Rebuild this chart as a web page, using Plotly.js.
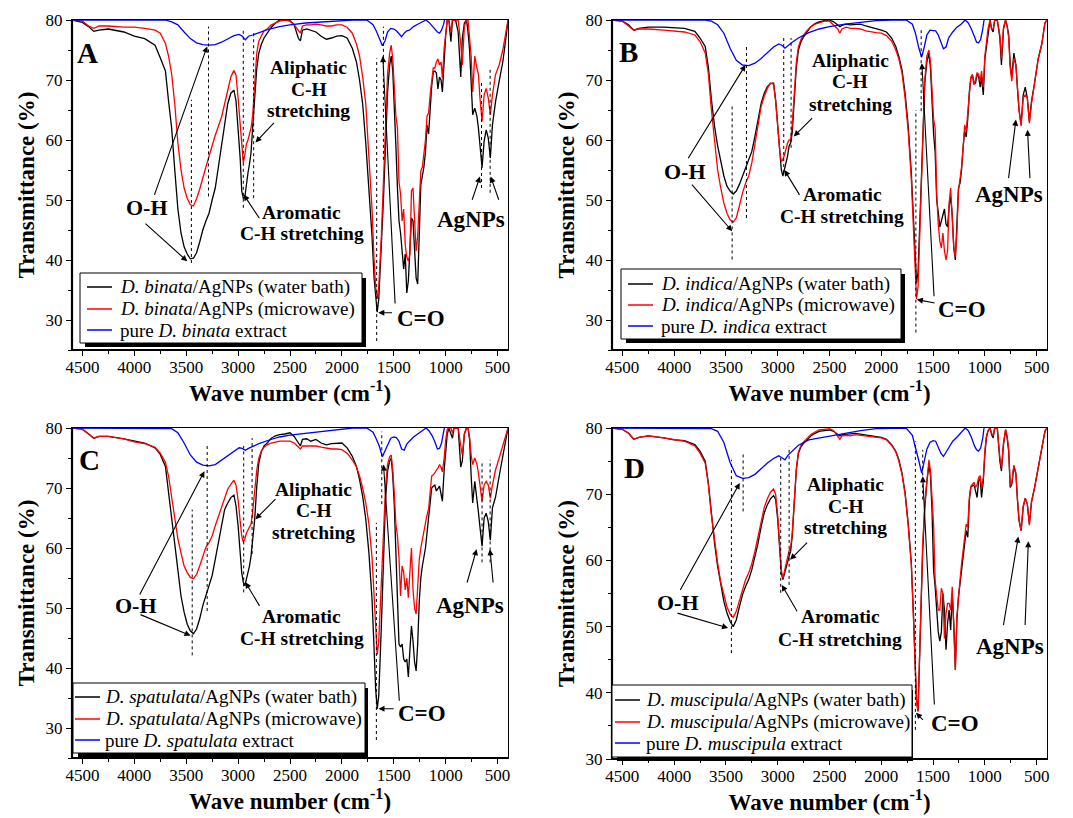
<!DOCTYPE html>
<html><head><meta charset="utf-8">
<script src="https://cdn.plot.ly/plotly-3.0.1.min.js"></script>
<style>html,body{margin:0;padding:0;background:#fff}#chart{width:1073px;height:818px}</style>
</head><body><div id="chart"></div>
<script>
// ---------- DATA ----------
const WN = [4600,4500,4440,4390,4340,4250,4100,4000,3900,3800,
3750,3700,3670,3640,3610,3580,3550,3520,3490,3460,
3430,3400,3370,3340,3310,3280,3250,3220,3190,3160,
3130,3100,3070,3040,3020,3000,2980,2965,2950,2935,
2920,2905,2890,2875,2860,2840,2820,2800,2775,2750,
2720,2680,2640,2600,2550,2500,2460,2420,2400,2380,
2340,2300,2250,2200,2150,2100,2050,2000,1950,1900,
1860,1830,1800,1770,1740,1710,1690,1675,1660,1645,
1620,1600,1580,1560,1540,1525,1510,1495,1480,1465,
1450,1435,1420,1405,1390,1375,1360,1345,1330,1315,
1300,1285,1270,1255,1240,1225,1210,1195,1180,1165,
1150,1135,1120,1105,1090,1075,1060,1045,1032,1015,
1000,985,970,950,935,920,905,880,855,840,
820,800,785,770,755,740,720,700,685,670,
650,630,610,590,570,550,520,485,450,420,
400];

const BWN = [4600,3700,3640,3580,3520,3460,3400,3340,3280,3220,
3160,3100,3040,2990,2960,2930,2900,2860,2800,2700,
2600,2500,2350,2200,2050,1900,1760,1700,1670,1640,
1610,1585,1560,1530,1500,1475,1450,1425,1400,1375,
1350,1310,1270,1230,1190,1160,1130,1100,1080,1060,
1040,1020,1000];

const binataWater = [80,79.6,78.9,78.1,78.3,78.5,78.0,77.3,76.9,75.8,
73.7,71.5,66.5,62,55,48.5,44.5,42.2,41,40.2,
40.3,41.2,43,45,46.5,47.8,50,52,55.5,59,
62.5,66,67.8,68.3,66.5,62,57,51.5,50.3,50.5,
53,54.5,56,58,62,67.5,72,74.5,76,77,
77.8,78.8,79.5,80,80,79.9,79.2,77,76.5,78.3,
78.5,78.3,78,77.3,76.8,77,77.3,77.4,77,75.3,
73,70,66,59.5,52,44,37,33.5,31.3,33.5,
42,50,59,68,72.5,74,71.5,66,59,52,
46.5,44.5,42,38.5,41,34.5,36.5,41,47,46.5,
42,37,36,44.5,52.5,54,55.5,58,62.5,61,
66,69,71.4,71.5,71.2,68.5,70.5,70,68,74,
77.5,80,80,76.4,80,80,80,78,70.5,77,
79.5,80,78,75,69,64.2,65.3,64,62,58.7,
55.4,59.8,61.7,60.3,57,62.5,66.4,69.8,73,77,
80];
const binataMicrowave = [80,79.8,79.0,78.6,79.0,79.0,78.8,78.8,78.6,78.3,
77.8,76.1,74,71,66,59.5,55,52,50.3,49.2,
49.0,50.2,51.8,53.8,55.5,57.3,59.2,60.8,62.3,63.8,
66,68.5,70.5,71.6,70.8,67,62,58.5,56.2,57.5,
59.3,60,61,62,64,70,74.5,76.5,77.5,78.2,
78.5,79.2,79.5,79.8,80,79.8,79.2,78.2,77.8,79,
79.2,79.2,79.3,79.2,79,79,79.2,79.2,78.8,77.8,
76,74,70.5,66,58,48.5,40,35.5,33.5,35.5,
44,53,62,71,74.5,75.8,73.5,69,64,62,
53,51,46.5,48.5,42.5,40.5,39.8,41,51.5,52,
47.5,41.5,44,49,54.8,55.5,58,60,64,64.5,
67.5,70,72,72,73,73.5,72.5,73,70.3,75.3,
78,80,80,78,80,80,80,80,76,72.5,
79,80,80,77,74,68,74,72,71,67,
63.1,67.5,68.6,67,64.2,67.5,70.9,72.5,75,78,
80];
const binataExtract = [80,80,79.7,79.2,78,76.9,76.2,75.9,75.8,75.9,
76.3,76.9,77.4,77.6,77.3,76.7,77.3,77.5,77.9,78.5,
78.9,79.2,79.5,79.7,79.9,80,80,79.2,78.2,77,
75.7,76.5,78,78.6,78.5,78.2,77.6,77.2,77.8,78.2,
78.3,78.9,79.3,79.6,80,79.6,79,78.3,78,77.8,
78.3,79.3,81];

const indicaWater = [80,79.8,79.2,78.3,78.6,78.8,78.8,78.7,78.6,78.1,
77,75.6,72.2,66.7,62.3,59,56.2,54,52.3,51.5,
51,51.5,52.6,54,55.6,56.7,58.1,60.6,63.4,66.1,
67.8,68.9,69.4,69.5,66.7,62.3,57.8,55,54,55,
56.2,57.3,59,59.5,61.2,66.7,72.2,75,76.4,77.2,
78,78.9,79.4,79.7,79.9,80,79.7,79.2,78.9,79.1,
79.3,79.2,79.2,79.3,79,78.8,78.6,78.3,78,77,
75.6,73.9,71.7,67.8,62.3,54.5,47.3,41,36.2,38,
50,62,69.5,73,74.5,72,66,61,58,50,
48,45.5,46.5,47.5,48.5,46,45.5,49,50.5,47.5,
42,40,45.5,52,52.8,55,58.7,61.5,60.5,63.5,
68,70.3,70.9,69.5,69.5,71,70.5,68.8,70.5,67.5,
73.5,75.5,77.3,80,78.5,78,80,80,77,72.5,
78.5,80,79,77.5,72.5,70.5,74.5,72.5,68.5,65,
62.6,67.5,68.8,67,63.1,66.4,69.5,73.5,76,79.5,
80];
const indicaMicrowave = [80,79.8,79,78.3,78.5,78.5,78.3,78.2,78,77.5,
76.4,74.5,71.1,65,59.5,55,52,49.5,47.8,46.7,
46.3,47,49,51.2,52.8,54,56.2,59.5,62.8,65.6,
67.3,68.6,69.5,69.3,66.5,62,58,56.5,56.7,57.5,
58.5,59.5,60,60,62.5,68,73,75.5,76.8,77.5,
78.2,78.9,79.3,79.5,79.8,79.8,79.2,78.5,77.8,78.5,
78.8,78.6,78.6,78.5,78.2,78,77.9,77.8,77.4,76.5,
75,73.5,71.2,67,61.5,53.5,46,38.5,33.5,35.5,
48,61,70,74,75,73,67,63.5,62,51,
46,43.2,42,44.5,41.5,40,41.5,49.5,52,47.5,
42,40.5,44.5,51.5,53.5,55.5,58.7,62.5,61.5,64.5,
68.5,70.5,70.8,69.2,70,71.2,71,69.8,71.5,68.8,
74,76.5,78.5,80,78.5,78.5,80,80,77.5,73.6,
78.8,80,79,77,72,69.8,73.6,72.5,68.5,65,
62.3,67,67.5,67,62.8,66,69.5,73.5,76,79.5,
80];
const indicaExtract = [80,80,79.8,79.2,77.8,75.3,73.3,72.5,72.4,72.8,
73.6,74.5,75.5,76,75.8,75.3,75.8,76.3,77,77.9,
78.5,78.9,79.3,79.6,79.9,80,80,79.3,77.8,75.5,
73.8,75.5,77.5,78.3,78.3,78.2,77.5,76.2,75.2,75.5,
77,78,78.8,79.3,80,79.5,78.5,77.2,76.3,76.2,
76.8,78.5,81];

const spatulataWater = [80,79.8,79,78.3,78.6,78.6,78.2,77.8,77.5,76.7,
75.6,73.6,69.2,64.8,59.8,55.4,52,49.3,47.3,46.2,
45.7,46.5,48.2,50.4,52,53.4,55.4,58.1,60.9,64.2,
66.4,67.5,68.4,68.8,67,63.7,59.2,55.9,54.3,53.7,
54.8,55.9,57,58.7,60.9,64.8,70.3,74.2,76.1,77,
77.5,78.3,78.7,78.9,79,79.2,78.6,77.5,77,78.1,
78.2,77.8,78.1,77.5,77.2,77.4,77.5,77.5,76.7,75.3,
73.6,71.4,68.6,64.8,59.2,51.5,43.2,36.5,33.2,35.4,
47,58,68,72.8,74.5,75,72,67,58,50,
44,43.5,44,41.5,41,41.5,38.5,43,47,44.5,
41,39.5,44,51,55,57,58.5,60,62.5,65,
68,70,70.3,70.5,69.5,70,70.3,69,67.8,73,
76.5,79,80,79,78.3,80,80,80,73.5,74.5,
79,80,80,78,72,67.5,71.1,68.5,66,63.5,
60.3,65,65.8,64.4,61.3,66.7,68.5,72,75.5,78.5,
80];
const spatulataMicrowave = [80,79.8,79,78.3,78.6,78.6,78.2,77.7,77.4,76.8,
75.8,74.3,72,68.6,64.8,61.5,59.2,57,55.9,55.1,
54.9,55.6,57,58.7,60.1,60.9,62,63.7,65.3,67,
68.6,69.8,70.6,71.3,70.5,68,64.5,62,61,61.5,
62.5,63,63.5,64,66,69.5,73,75,76.2,76.8,
77.2,77.5,77.7,77.8,77.8,77.8,77.5,76.8,76.5,77,
77,77,77,76.8,76.6,76.5,76.5,76.4,75.8,74.7,
73.5,72,70,67.5,64,58.5,52,46,42.2,44.5,
55,63,70,74,75.2,75.5,73,69,64,62,
58.3,52,57,56,53,55,51.7,56,60,53,
50,49,54,58,60,61.5,62.5,64,65.5,66.5,
69,72,72.2,72.5,73,73.3,73.9,73.5,72.7,75,
78,79.8,80,80,79.2,80,80,80,77,75.5,
79,80,80,78.5,75.5,73.9,75,74,72.5,70,
67.8,70.5,71.1,70.5,68.3,70.5,73,75,77,79,
80];
const spatulataExtract = [80,80,79.9,79.2,77.5,75.5,74.3,73.8,73.7,73.9,
74.6,75.4,76.1,76.7,76.6,76.3,76.6,76.9,77.4,78,
78.5,78.8,79.1,79.4,79.8,80,80,79.3,78.2,77,
75.2,76.2,77.3,78.3,78.5,78.4,77.8,76.5,76.3,77.3,
77.8,78.5,79,79.5,80,79.5,78.7,77.5,76.5,76.6,
77.5,79.4,81];

const muscipulaWater = [80,79.8,79.2,78.3,78.6,78.8,78.5,78.2,78.1,77.5,
76.5,75,71.7,66.7,62.6,59.1,56.1,53.8,52.1,50.8,
50,51,53,54.8,56.1,57.1,58.6,60.6,62.6,65.1,
67.2,68.4,69.3,69.8,69.2,66.2,61.6,58.1,57.1,58.1,
59.1,59.6,60.6,61.4,63.6,68.7,73.7,76.2,77.2,77.7,
78.2,78.8,79.2,79.5,79.6,79.7,79.5,79.1,78.8,79,
79.1,79.1,79.2,79.1,79,78.8,78.7,78.6,78.3,77.5,
76.5,75.2,73.2,70.2,65.6,59.6,52,45,39,37.2,
52.8,61.5,67.9,71.9,74.4,72.8,67.5,58.5,56,52.3,
49.2,47.8,49.2,55,52.5,46.5,50.5,52.5,49.5,55,
50.5,43.5,51,54.5,56.5,59,61,62.8,64.5,63.5,
69,71.1,71.3,71.4,70.5,69.5,72,72.4,69.5,72,
76,78.5,79.5,80,79,78.5,80,80,75,73.5,
77.5,79.7,78.5,76.5,71,71.5,74.2,73,69,66,
64.5,68,69.4,68.5,65.5,68.8,71,74,77,79.5,
80];
const muscipulaMicrowave = [80,79.8,79.2,78.3,78.6,78.8,78.5,78.2,78,77.3,
76.2,74.7,71.5,66.8,63,59.6,56.7,54.6,53,51.9,
51.4,52.3,54,55.8,57.1,58.1,59.5,61.4,63.5,65.9,
68,69.3,70.3,70.8,70,66.8,62,58.5,57.3,58.5,
59.5,60.3,61.5,62,64,69,73.9,76.4,77.4,77.9,
78.4,79,79.4,79.7,79.8,79.9,79.6,78.8,78.3,78.8,
78.9,78.8,79,78.9,78.8,78.6,78.6,78.5,78.2,77.4,
76.4,75,73,70,65.3,59.3,51.7,44.5,38.5,37.2,
53.5,62.5,68.5,72.5,75.2,73.5,69,65.3,57,54.3,
52.5,52.5,55.8,55,48.2,52,53.5,53.5,52.5,56,
50.5,43.5,51.5,55,57,59.5,61.5,64,65.5,65,
69.5,71.2,71.5,71.8,71,71.5,72.5,72.8,70.9,72.5,
76.5,78.8,79.6,80,79.2,78.8,80,80,75.5,74,
77.8,79.8,78.8,76.8,71.2,71.7,74.4,73.2,69.3,66.2,
64.5,68.2,69.4,68.5,65.3,68.8,71,74,77,79.5,
80];
const muscipulaExtract = [80,80,79.9,79.5,77.8,74.8,72.8,72.4,72.5,73,
73.9,74.7,75.4,75.8,75.5,75.2,75.9,76.5,77.4,78.2,
78.5,78.7,79.2,79.6,79.9,80,80,78.9,77.2,75.2,
73.2,75.2,76.8,77.8,78.1,78,77.2,76.2,75.7,76.3,
77.1,78,78.6,79.3,80,79.6,78.6,77.3,76.7,76.5,
77,78.5,81];

const X_TICKS = [4500,4000,3500,3000,2500,2000,1500,1000,500];
const X_MINOR = [4250,3750,3250,2750,2250,1750,1250,750];
const Y_TICKS = [30,40,50,60,70,80];
const Y_MINOR = [25,35,45,55,65,75];

// ---------- LAYOUT HELPERS ----------
const W = 1073, H = 818;
const FONT = 'Liberation Serif, Times New Roman, serif';
const px = v => v / W, py = v => 1 - v / H;
const SERIES_COLORS = ['#000000', '#ff0000', '#0000ff'];

const PANELS = [
  {id:'A', sp:'binata', water:binataWater, micro:binataMicrowave, pure:binataExtract, yr:[25,80],
   dom:{x:[72,508], y:[20,350]},
   leg:{box:[80,273,362,343], sh:[85,278,366,347], line:[87,112], tx:118, rows:[287,309,330]},
   letter:[4446,74.5], oh:[3881,48.7], ali:[2321,72.1,68.5,64.9], aro:[2385,48.0,44.4], co:[1240,30.3], ag:[760,46.7],
   arrows:[[3298,75.6,3811,50.6],[3490,39.8,3907,46.3],[2833,59.6,2641,63.1],[2946,50.9,2785,46.7],[1650,31.2,1503,31.2],[1606,74,1487,32.5],[670,53.9,750,49.8],[567,53.9,484,49.8]],
   dots:[[3450,39.5,66.7],[3285,50.6,78.9],[2950,48.7,78.6],[2850,50.3,78.3],[1665,26.5,73.6],[1600,56.7,78.9],[655,52,70],[572,51.2,71.7]]},
  {id:'B', sp:'indica', water:indicaWater, micro:indicaMicrowave, pure:indicaExtract, yr:[25,80],
   dom:{x:[612,1047], y:[20,350]},
   leg:{box:[621,269,901,339], sh:[626,274,905,343], line:[628,653], tx:659, rows:[284,305,326]},
   letter:[4445,74.6], oh:[3899,54.7], ali:[2299,73.2,69.7,66], aro:[2379,50.9,47.3], co:[1223,31.8], ag:[767,50.9],
   arrows:[[3311,72.5,3873,56.7],[3440,44.8,3841,52.8],[2845,60.6,2653,63.9],[2935,55,2781,50.6],[1657,33.4,1470,32.8],[1608,72.8,1490,33.7],[700,63.4,773,53.4],[588,61.7,564,53.4]],
   dots:[[3440,40.1,65.9],[3302,47,75.8],[2942,54.5,77.5],[2871,58.7,77],[1666,27.9,65],[1615,64.8,78.6]]},
  {id:'C', sp:'spatulata', water:spatulataWater, micro:spatulataMicrowave, pure:spatulataExtract, yr:[25,80],
   dom:{x:[72,508], y:[428,758]},
   leg:{box:[73,683,365,753], sh:[78,688,368,757], line:[75,100], tx:103, rows:[697,719,740]},
   letter:[4430,74.7], oh:[3987,50.4], ali:[2273,69.8,66.2,62.6], aro:[2385,48.6,45], co:[1231,32.4], ag:[766,50.4],
   arrows:[[3324,72.8,3955,52],[3458,45.4,3955,49],[2833,64.8,2625,68.4],[2930,54.3,2785,50.1],[1648,33.2,1487,33.2],[1599,73.9,1446,34.3],[702,59.8,798,54],[574,59.8,542,54]],
   dots:[[3442,42.1,66.4],[3298,49.5,77.5],[2946,52.6,77],[2865,59,78.3],[1668,28,64.2],[1616,67.3,79.4],[650,57.6,74.2],[572,57.6,74.7]]},
  {id:'D', sp:'muscipula', water:muscipulaWater, micro:muscipulaMicrowave, pure:muscipulaExtract, yr:[30,80],
   dom:{x:[612,1047], y:[428,759]},
   leg:{box:[612,685,912,757], sh:[617,690,913,761], line:[615,640], tx:644, rows:[700,722,743]},
   letter:[4380,74], oh:[3965,53.7], ali:[2345,71.4,68.2,64.9], aro:[2394,51.6,48.1], co:[1292,35.4], ag:[758,47],
   arrows:[[3366,71.7,3949,55.3],[3479,49.8,3982,52.1],[2880,60.1,2702,62.9],[2961,56.3,2805,52.1],[1665,37,1584,35.7],[1600,72.7,1487,38],[677,63.6,823,50],[580,62.9,612,50]],
   dots:[[3447,46,75.2],[3334,67.4,76.2],[2971,55.1,75.7],[2890,56.3,77.2],[1671,34.4,78],[1600,69.2,76.7]]}
];

const traces = [], annotations = [], shapes = [];
const layout = {
  width: W, height: H, margin:{l:0,r:0,t:0,b:0}, paper_bgcolor:'#fff', plot_bgcolor:'#fff',
  font:{family:FONT, color:'#000'}, showlegend:false
};

PANELS.forEach((p, i) => {
  const n = i === 0 ? '' : String(i + 1);
  const xa = 'x' + n, ya = 'y' + n;
  const names = ['<i>D. ' + p.sp + '</i>/AgNPs (water bath)', '<i>D. ' + p.sp + '</i>/AgNPs (microwave)', 'pure <i>D. ' + p.sp + '</i> extract'];
  const ys = [p.water, p.micro, p.pure];
  const xs = [WN, WN, BWN];
  for (let k = 0; k < 3; k++) {
    traces.push({type:'scatter', mode:'lines', x:xs[k], y:ys[k], xaxis:xa, yaxis:ya, name:names[k],
      line:{color:SERIES_COLORS[k], width:1.3}, showlegend:false});
  }

  const axBase = {showline:true, mirror:true, linecolor:'#000', linewidth:1, showgrid:false, zeroline:false,
    ticks:'outside', ticklen:5, tickwidth:1.2, tickcolor:'#000', tickfont:{family:FONT, size:17, color:'#000'}};
  layout['xaxis' + n] = Object.assign({}, axBase, {
    domain:[px(p.dom.x[0]), px(p.dom.x[1])], anchor:ya, range:[4600, 400], tickmode:'array', tickvals:X_TICKS,
    minor:{tickmode:'array', tickvals:X_MINOR, ticks:'outside', ticklen:3, tickcolor:'#000'},
    ticklabelstandoff:-3,
    title:{text:'<b>Wave number (cm<sup>-1</sup>)</b>', font:{family:FONT, size:23, color:'#000'}, standoff:0}
  });
  layout['yaxis' + n] = Object.assign({}, axBase, {
    domain:[py(p.dom.y[1]), py(p.dom.y[0])], anchor:xa, range:p.yr, tickmode:'array', tickvals:Y_TICKS,
    minor:{tickmode:'array', tickvals:Y_MINOR, ticks:'outside', ticklen:3, tickcolor:'#000'},
    title:{text:'<b>Transmittance (%)</b>', font:{family:FONT, size:23, color:'#000'}, standoff:4}
  });

  // thick left & bottom frame lines
  shapes.push({type:'line', xref:xa + ' domain', yref:ya + ' domain', x0:0, x1:0, y0:0, y1:1, line:{color:'#000', width:2.2}});
  shapes.push({type:'line', xref:xa + ' domain', yref:ya + ' domain', x0:0, x1:1, y0:0, y1:0, line:{color:'#000', width:2.2}});
  // legend: shadow, frame, sample lines, texts
  const L = p.leg, s = L.sh, b = L.box;
  shapes.push({type:'rect', xref:'paper', yref:'paper', x0:px(s[0]), x1:px(s[2]), y0:py(s[3]), y1:py(s[1]),
    fillcolor:'#000', line:{width:0}, layer:'above'});
  shapes.push({type:'rect', xref:'paper', yref:'paper', x0:px(b[0]), x1:px(b[2]), y0:py(b[3]), y1:py(b[1]),
    fillcolor:'#fff', line:{color:'#000', width:1}, layer:'above'});
  for (let k = 0; k < 3; k++) {
    shapes.push({type:'line', xref:'paper', yref:'paper', x0:px(L.line[0]), x1:px(L.line[1]), y0:py(L.rows[k]), y1:py(L.rows[k]),
      line:{color:SERIES_COLORS[k], width:1.5}, layer:'above'});
    annotations.push({xref:'paper', yref:'paper', x:px(L.tx), y:py(L.rows[k]), xanchor:'left', yanchor:'middle',
      text:names[k], showarrow:false, font:{family:FONT, size:19, color:'#000'}});
  }
  // dotted guide lines
  p.dots.forEach(d => shapes.push({type:'line', xref:xa, yref:ya, x0:d[0], x1:d[0], y0:d[1], y1:d[2],
    line:{color:'#000', width:1, dash:'dot'}}));

  const lab = (x, y, t, size) => annotations.push({xref:xa, yref:ya, x:x, y:y, text:'<b>' + t + '</b>',
    showarrow:false, xanchor:'center', yanchor:'middle', font:{family:FONT, size:size, color:'#000'}});
  lab(p.letter[0], p.letter[1], p.id, 29);
  lab(p.oh[0], p.oh[1], 'O-H', 22);
  lab(p.ali[0], p.ali[1], 'Aliphatic', 19.5);
  lab(p.ali[0], p.ali[2], 'C-H', 19.5);
  lab(p.ali[0], p.ali[3], 'stretching', 19.5);
  lab(p.aro[0], p.aro[1], 'Aromatic', 19.5);
  lab(p.aro[0], p.aro[2], 'C-H stretching', 19.5);
  lab(p.co[0], p.co[1], 'C=O', 23);
  lab(p.ag[0], p.ag[1], 'AgNPs', 23);
  p.arrows.forEach(a => annotations.push({xref:xa, yref:ya, x:a[0], y:a[1], axref:xa, ayref:ya, ax:a[2], ay:a[3],
    text:'', showarrow:true, arrowhead:2, arrowsize:1.1, arrowwidth:1.1, arrowcolor:'#000', standoff:0, startstandoff:0}));
});

layout.annotations = annotations;
layout.shapes = shapes;
Plotly.newPlot('chart', traces, layout, {displayModeBar:false, responsive:false});
</script>
</body></html>
